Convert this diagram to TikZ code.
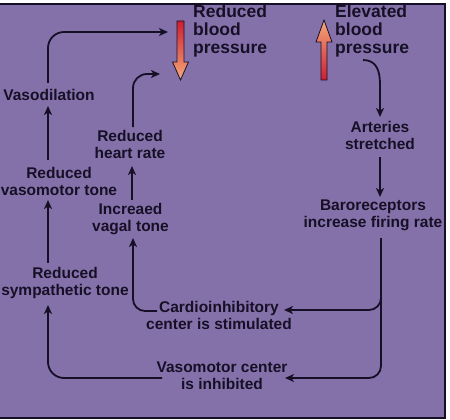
\documentclass[tikz,border=0pt]{standalone}
\usepackage{fontspec}
\setmainfont{Liberation Sans}
\usetikzlibrary{arrows.meta}
\definecolor{bgpurple}{RGB}{133,113,170}
\definecolor{ink}{RGB}{22,16,38}
\definecolor{bpred}{RGB}{205,30,50}
\definecolor{bppeach}{RGB}{245,170,120}
\tikzset{
  lab/.style={align=center,inner sep=0pt,text=ink,font=\fontsize{15.5}{17}\selectfont\bfseries},
  ttl/.style={align=left,inner sep=0pt,anchor=west,text=ink,font=\fontsize{17.5}{18}\selectfont\bfseries},
  arr/.style={draw=ink,line width=1.8pt,-{Stealth[length=9pt,width=8pt,inset=2.5pt]}},
  blockarrow/.style={draw=ink,line width=0.8pt}
}
\begin{document}
\begin{tikzpicture}[x=1pt,y=-1pt]
\useasboundingbox (0,0) rectangle (450,420);
\fill[white] (0,0) rectangle (450,420);
\fill[bgpurple] (-5,4) rectangle (445,418);
\draw[ink,line width=1.5pt] (-5,4) -- (445,4) -- (445,418) -- (-5,418);

% titles
\node[ttl] (redbp) at (193,31) {Reduced\\blood\\pressure};
\node[ttl] (elebp) at (335,31) {Elevated\\blood\\pressure};

% block arrows
\path[blockarrow,top color=bpred,bottom color=bppeach]
  (177,21) -- (184,21) -- (184,62) -- (188.5,62) -- (180.5,80) -- (172.5,62) -- (177,62) -- cycle;
\path[blockarrow,top color=bppeach,bottom color=bpred]
  (321,80) -- (327,80) -- (327,42) -- (332,42) -- (324,20) -- (316,42) -- (321,42) -- cycle;

% labels
\node[lab] (arteries) at (380,135.5) {Arteries\\stretched};
\node[lab] (baro) at (373,215.5) {Baroreceptors\\increase firing rate};
\node[lab] (cardio) at (219,315) {Cardioinhibitory\\center is stimulated};
\node[lab] (vasomc) at (222,375.5) {Vasomotor center\\is inhibited};
\node[lab] (vagal) at (130.5,219) {Increaed\\vagal tone};
\node[lab] (heart) at (130,144) {Reduced\\heart rate};
\node[lab] (vasodil) at (49,95) {Vasodilation};
\node[lab] (vasotone) at (59,181.5) {Reduced\\vasomotor tone};
\node[lab] (symp) at (65,283) {Reduced\\sympathetic tone};

% connector anchors
\coordinate (eStart) at (363,60);
\coordinate (artTop) at (380,117);
\coordinate (artBot) at (380,157);
\coordinate (baroTop) at (380,197);
\coordinate (baroBot) at (381,238);
\coordinate (cardTip) at (284,310);
\coordinate (vmTip) at (285,378);
\coordinate (cardOut) at (157,311);
\coordinate (vagTip) at (133,238);
\coordinate (vagOut) at (132,200);
\coordinate (heartTip) at (132,166);
\coordinate (heartOut) at (133,127);
\coordinate (rbpTip1) at (160,74);
\coordinate (vtOut) at (48,160);
\coordinate (vdTip) at (48,106);
\coordinate (vdOut) at (48,83);
\coordinate (rbpTip2) at (168,32);
\coordinate (spOut) at (48,263);
\coordinate (vtTip) at (48,200);
\coordinate (vmOut) at (162,378);
\coordinate (spTip) at (48,305);

\draw[arr] (eStart) .. controls (376,60) and (380,70) .. (380,84) -- (artTop);
\draw[arr] (artBot) -- (baroTop);
\draw[arr,rounded corners=12pt] (baroBot) |- (cardTip);
\draw[arr,rounded corners=12pt] (baroBot) |- (vmTip);
\draw[arr,rounded corners=12pt] (cardOut) -| (vagTip);
\draw[arr] (vagOut) -- (heartTip);
\draw[arr,rounded corners=14pt] (heartOut) |- (rbpTip1);
\draw[arr] (vtOut) -- (vdTip);
\draw[arr,rounded corners=16pt] (vdOut) |- (rbpTip2);
\draw[arr] (spOut) -- (vtTip);
\draw[arr,rounded corners=16pt] (vmOut) -| (spTip);
\end{tikzpicture}
\end{document}
